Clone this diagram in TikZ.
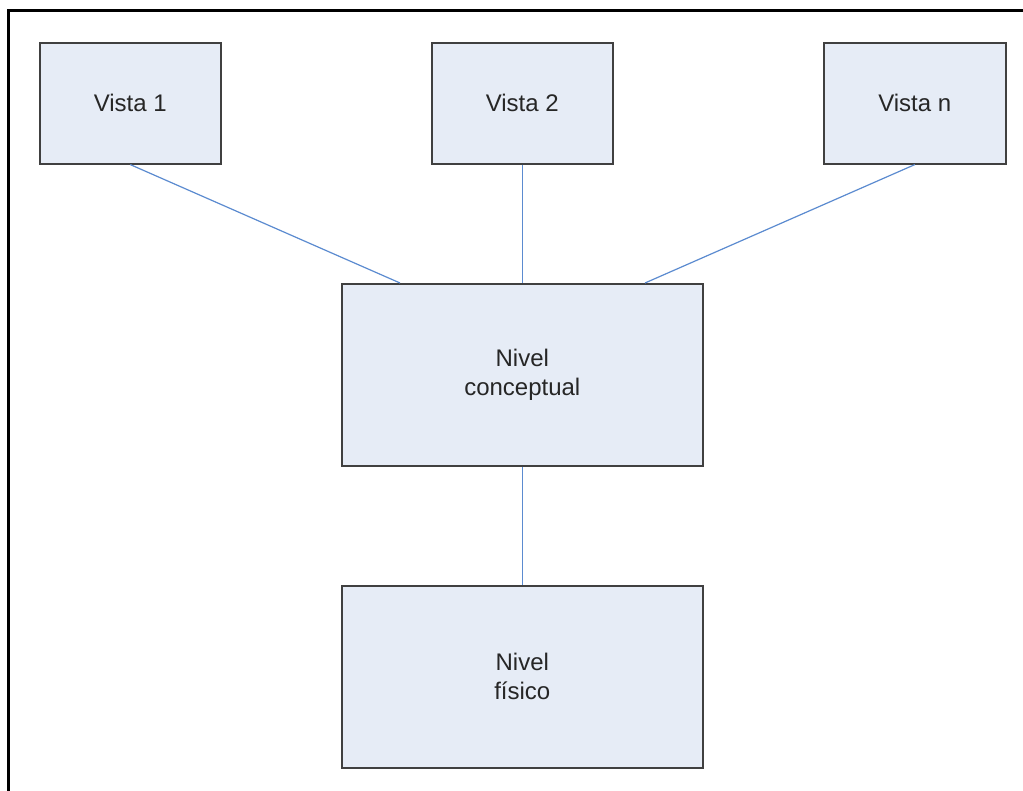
\documentclass[tikz,border=0pt]{standalone}
\usepackage{fontspec}
\setmainfont{Liberation Sans}
\definecolor{boxfill}{HTML}{E6ECF6}
\definecolor{boxdraw}{HTML}{404040}
\definecolor{linkblue}{HTML}{5B8BD0}
\begin{document}
\begin{tikzpicture}[x=1pt,y=-1pt,
  box/.style={draw=boxdraw,line width=1.6pt,fill=boxfill,anchor=north west,inner sep=0pt,
    align=center,font=\fontsize{24}{29}\selectfont,text=black!85},
  link/.style={draw=linkblue,line width=1.2pt}]
\useasboundingbox (0,0) rectangle (1023,791);
\fill[white] (0,0) rectangle (1023,791);
\draw[black,line width=3pt] (8,795) -- (8,11) -- (1030,11);
\node[box,minimum width=181pt,minimum height=121pt] (v1) at (39,42) {Vista 1};
\node[box,minimum width=181pt,minimum height=121pt] (v2) at (431,42) {Vista 2};
\node[box,minimum width=182pt,minimum height=121pt] (vn) at (823,42) {Vista n};
\node[box,minimum width=361pt,minimum height=182pt] (nc) at (341,283) {Nivel\\conceptual};
\node[box,minimum width=361pt,minimum height=182pt] (nf) at (341,585) {Nivel\\físico};
\coordinate (ncl) at (400,283);
\coordinate (ncr) at (645,283);
\draw[link] (v1.south) -- (ncl);
\draw[link] (v2.south) -- (nc.north);
\draw[link] (vn.south) -- (ncr);
\draw[link] (nc.south) -- (nf.north);
\end{tikzpicture}
\end{document}
